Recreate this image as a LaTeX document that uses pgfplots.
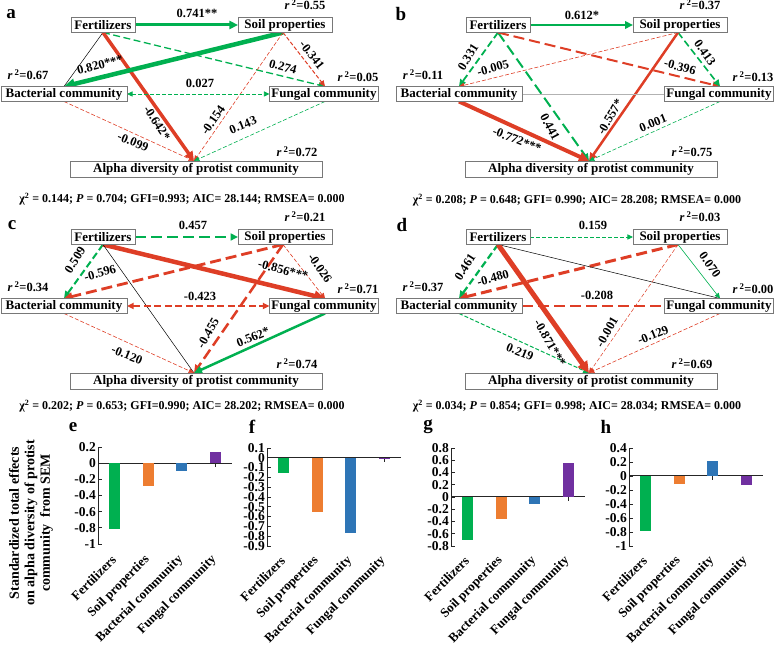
\documentclass[border=0pt]{standalone}
\usepackage{pgfplots}
\pgfplotsset{compat=1.18}
\usepackage{fontspec}
\setmainfont{Liberation Serif}
\usetikzlibrary{arrows.meta}
\definecolor{sg}{RGB}{0,176,80}
\definecolor{sr}{RGB}{222,62,38}
\definecolor{bo}{RGB}{237,125,49}
\definecolor{bb}{RGB}{46,117,182}
\definecolor{bp}{RGB}{112,48,160}
\definecolor{bx}{RGB}{120,120,120}
\tikzset{
 box/.style={draw=bx, fill=white, line width=0.9pt, minimum height=15pt, inner sep=0pt, font=\fontsize{13}{15}\selectfont\bfseries},
 lab/.style={font=\fontsize{12.5}{14}\selectfont\bfseries, inner sep=0pt},
 chi/.style={font=\fontsize{12}{14}\selectfont\bfseries, inner sep=0pt},
 plab/.style={font=\fontsize{19}{20}\selectfont\bfseries, inner sep=0pt},
 tip/.style={-{Triangle[length=4.5pt 1.4,width=4pt 1.4]}},
 tips/.style={{Triangle[length=4.5pt 1.4,width=4pt 1.4]}-{Triangle[length=4.5pt 1.4,width=4pt 1.4]}},
 dt/.style={dash pattern=on 4pt off 2pt},
 dm/.style={dash pattern=on 7pt off 3.5pt},
 dk/.style={dash pattern=on 11pt off 5pt},
}
\newcommand\rsq[1]{\textit{r}\,\textsuperscript{2}=#1}
\newcommand\sempoints{%
 \coordinate (FR) at (135,25); \coordinate (SL) at (238,25);
 \coordinate (FB) at (103,32.5); \coordinate (SB) at (283,32.5);
 \coordinate (BT) at (64,86.5); \coordinate (GT) at (325,86.5);
 \coordinate (BR) at (127,94); \coordinate (GL) at (269.5,94);
 \coordinate (BB) at (64,101.5); \coordinate (GB) at (325,101.5);
 \coordinate (AT) at (194,161);}
\newcommand\semboxes[4]{%
 \node[box, minimum width=64pt] at (103,25) {Fertilizers};
 \node[box, minimum width=94pt] at (285,25) {Soil properties};
 \node[box, minimum width=126pt] at (64,94) {Bacterial community};
 \node[box, minimum width=109pt] at (324,94) {Fungal community};
 \node[box, minimum width=252pt, minimum height=16pt] at (196,169) {Alpha diversity of protist community};
 \node[lab] at (305,5) {\rsq{#1}};
 \node[lab] at (28,75) {\rsq{#2}};
 \node[lab] at (358,77) {\rsq{#3}};
 \node[lab] at (297,152) {\rsq{#4}};}
\pgfplotsset{barax/.style={
  scale only axis, width=134pt,
  xmin=-0.5, xmax=3.5,
  axis x line=middle, axis y line=left,
  axis line style={-, black!85, line width=1pt},
  tick style={black!85, line width=0.9pt},
  tick align=inside, major tick length=4pt,
  xtick={0,1,2,3},
  xticklabels={Fertilizers, Soil properties, Bacterial community, Fungal community},
  xticklabel style={rotate=45, anchor=east, font=\fontsize{13}{14}\selectfont\bfseries, inner sep=1pt},
  yticklabel style={font=\fontsize{13.5}{14}\selectfont\bfseries, inner sep=2pt},
  /pgf/number format/assume math mode=true,
  ybar, bar width=11pt,
  clip=false,
}, bar/.style={fill=#1, draw=none, bar shift=0pt}}
\begin{document}
\begin{tikzpicture}
\path[use as bounding box] (0pt,0pt) rectangle (778pt,647pt);
\begin{scope}[x=1pt, y=1pt, shift={(0pt,647pt)}, yscale=-1]
% ---------------- panel a
\begin{scope}
\sempoints
\draw[sg, line width=3pt, tip] (FR) -- (SL);
\draw[black, line width=0.5pt] (FB) -- (BT);
\draw[sg, line width=1.3pt, dm, tip] (FB) -- (GT);
\draw[sr, line width=3.5pt, tip] (FB) -- (AT);
\draw[sg, line width=4.5pt, tip] (SB) -- (BT);
\draw[sr, line width=1pt, dt, tip] (SB) -- (GT);
\draw[sr, line width=0.6pt, dt, tip] (SB) -- (AT);
\draw[sg, line width=0.8pt, dt, tips] (BR) -- (GL);
\draw[sr, line width=0.6pt, dt, tip] (BB) -- (AT);
\draw[sg, line width=0.6pt, dt, tip] (GB) -- (AT);
\node[lab] at (197,13) {0.741**};
\node[lab, rotate=15] at (100,65) {0.820***};
\node[lab, rotate=-15] at (283,67) {0.274};
\node[lab, rotate=-57] at (157,123) {-0.642*};
\node[lab, rotate=-52] at (312,55) {-0.341};
\node[lab, rotate=55] at (213,120) {-0.154};
\node[lab] at (200,83) {0.027};
\node[lab, rotate=-22] at (133,142) {-0.099};
\node[lab, rotate=22] at (243,125) {0.143};
\semboxes{0.55}{0.67}{0.05}{0.72}
\node[chi] at (182,199) {χ\textsuperscript{2} = 0.144; \textit{P} = 0.704; GFI=0.993; AIC= 28.144; RMSEA= 0.000};
\node[plab] at (11,14) {a};
\end{scope}
% ---------------- panel b
\begin{scope}[shift={(395,0)}]
\sempoints
\draw[sg, line width=2.5pt, tip] (FR) -- (SL);
\draw[sg, line width=1.8pt, dm, tip] (FB) -- (BT);
\draw[sr, line width=0.6pt, dt, tip] (SB) -- (BT);
\draw[sg, line width=2pt, dk, tip] (FB) -- (AT);
\draw[sr, line width=2pt, dk, tip] (FB) -- (GT);
\draw[sg, line width=1.6pt, dm, tip] (SB) -- (GT);
\draw[sr, line width=2.5pt, tip] (SB) -- (AT);
\draw[black!30, line width=0.8pt] (BR) -- (GL);
\draw[sr, line width=4pt, tip] (BB) -- (AT);
\draw[sg, line width=0.6pt, dt, tip] (GB) -- (AT);
\node[lab] at (187,15) {0.612*};
\node[lab, rotate=58] at (73,57) {0.331};
\node[lab, rotate=15] at (98,68) {-0.005};
\node[lab, rotate=-62] at (155,127) {0.441};
\node[lab, rotate=-15] at (285,67) {-0.396};
\node[lab, rotate=-55] at (310,53) {0.413};
\node[lab, rotate=60] at (215,117) {-0.557*};
\node[lab, rotate=-22] at (122,140) {-0.772***};
\node[lab, rotate=22] at (258,123) {0.001};
\semboxes{0.37}{0.11}{0.13}{0.75}
\node[chi] at (182,200) {χ\textsuperscript{2} = 0.208; \textit{P} = 0.648; GFI= 0.990; AIC= 28.208; RMSEA= 0.000};
\node[plab] at (6,14) {b};
\end{scope}
% ---------------- panel c
\begin{scope}[shift={(0,212)}]
\sempoints
\draw[sg, line width=2pt, dk, tip] (FR) -- (SL);
\draw[sg, line width=2pt, dm, tip] (FB) -- (BT);
\draw[sr, line width=2.8pt, dk, tip] (SB) -- (BT);
\draw[sr, line width=4.5pt, tip] (FB) -- (GT);
\draw[sr, line width=0.6pt, dt, tip] (SB) -- (GT);
\draw[black, line width=0.5pt] (FB) -- (AT);
\draw[sr, line width=2.5pt, dk, tip] (SB) -- (AT);
\draw[sr, line width=1.6pt, dm, tips] (BR) -- (GL);
\draw[sr, line width=0.6pt, dt, tip] (BB) -- (AT);
\draw[sg, line width=2.5pt, tip] (GB) -- (AT);
\node[lab] at (193,13) {0.457};
\node[lab, rotate=57] at (75,48) {0.509};
\node[lab, rotate=15] at (100,61) {-0.596};
\node[lab, rotate=-15] at (283,58) {-0.856***};
\node[lab, rotate=-55] at (320,56) {-0.026};
\node[lab, rotate=60] at (208,121) {-0.455};
\node[lab] at (200,84) {-0.423};
\node[lab, rotate=-22] at (127,143) {-0.120};
\node[lab, rotate=22] at (253,125) {0.562*};
\semboxes{0.21}{0.34}{0.71}{0.74}
\node[chi] at (182,194) {χ\textsuperscript{2} = 0.202; \textit{P} = 0.653; GFI=0.990; AIC= 28.202; RMSEA= 0.000};
\node[plab] at (12,13) {c};
\end{scope}
% ---------------- panel d
\begin{scope}[shift={(395,212)}]
\sempoints
\draw[sg, line width=0.8pt, dt, tip] (FR) -- (SL);
\draw[sg, line width=2.2pt, dm, tip] (FB) -- (BT);
\draw[sr, line width=3pt, dk, tip] (SB) -- (BT);
\draw[black, line width=0.5pt] (FB) -- (GT);
\draw[sg, line width=0.6pt, tip] (SB) -- (GT);
\draw[sr, line width=0.5pt, dt, tip] (SB) -- (AT);
\draw[sr, line width=1.6pt, dk] (BR) -- (GL);
\draw[sg, line width=1pt, dt, tip] (BB) -- (AT);
\draw[sr, line width=0.6pt, dt, tip] (GB) -- (AT);
\draw[sr, line width=5pt, tip] (FB) -- (AT);
\node[lab] at (198,13) {0.159};
\node[lab, rotate=57] at (70,55) {0.461};
\node[lab, rotate=15] at (98,66) {-0.480};
\node[lab, rotate=-60] at (155,131) {-0.871***};
\node[lab, rotate=-55] at (315,53) {0.070};
\node[lab, rotate=60] at (212,120) {-0.001};
\node[lab] at (202,83) {-0.208};
\node[lab, rotate=-22] at (125,140) {0.219};
\node[lab, rotate=22] at (258,123) {-0.129};
\semboxes{0.03}{0.37}{0.00}{0.69}
\node[chi] at (182,194) {χ\textsuperscript{2} = 0.034; \textit{P} = 0.854; GFI= 0.998; AIC= 28.034; RMSEA= 0.000};
\node[plab] at (7,13) {d};
\end{scope}
% ---------------- bar panel letters and y label
\node[plab] at (73,427) {e};
\node[plab] at (252,427) {f};
\node[plab] at (428,427) {g};
\node[plab] at (606,427) {h};
\node[rotate=90, align=center, font=\fontsize{14}{15.5}\selectfont\bfseries] at (31,523) {Standardized total effects\\on alpha diversity of protist\\community \ from SEM};
\end{scope}
% ---------------- e
\begin{axis}[barax, at={(98pt,103pt)}, anchor=south west, height=97pt,
  ymin=-1, ymax=0.2, ytick={-1,-0.8,-0.6,-0.4,-0.2,0,0.2}, xticklabel shift=90pt]
\addplot[bar=sg] coordinates {(0,-0.81)};
\addplot[bar=bo] coordinates {(1,-0.28)};
\addplot[bar=bb] coordinates {(2,-0.10)};
\addplot[bar=bp] coordinates {(3,0.14)};
\end{axis}
% ---------------- f
\begin{axis}[barax, at={(267pt,101pt)}, anchor=south west, height=98pt,
  ymin=-0.9, ymax=0.1, ytick={-0.9,-0.8,-0.7,-0.6,-0.5,-0.4,-0.3,-0.2,-0.1,0,0.1}, xticklabel shift=96pt]
\addplot[bar=sg] coordinates {(0,-0.155)};
\addplot[bar=bo] coordinates {(1,-0.55)};
\addplot[bar=bb] coordinates {(2,-0.772)};
\addplot[bar=bp] coordinates {(3,0.001)};
\end{axis}
% ---------------- g
\begin{axis}[barax, at={(451pt,101pt)}, anchor=south west, height=98pt,
  ymin=-0.8, ymax=0.8, ytick={-0.8,-0.6,-0.4,-0.2,0,0.2,0.4,0.6,0.8}, xticklabel shift=57pt]
\addplot[bar=sg] coordinates {(0,-0.71)};
\addplot[bar=bo] coordinates {(1,-0.36)};
\addplot[bar=bb] coordinates {(2,-0.12)};
\addplot[bar=bp] coordinates {(3,0.562)};
\end{axis}
% ---------------- h
\begin{axis}[barax, at={(629pt,101pt)}, anchor=south west, height=98pt,
  ymin=-1, ymax=0.4, ytick={-1,-0.8,-0.6,-0.4,-0.2,0,0.2,0.4}, xticklabel shift=78pt]
\addplot[bar=sg] coordinates {(0,-0.78)};
\addplot[bar=bo] coordinates {(1,-0.11)};
\addplot[bar=bb] coordinates {(2,0.219)};
\addplot[bar=bp] coordinates {(3,-0.129)};
\end{axis}
\end{tikzpicture}
\end{document}
